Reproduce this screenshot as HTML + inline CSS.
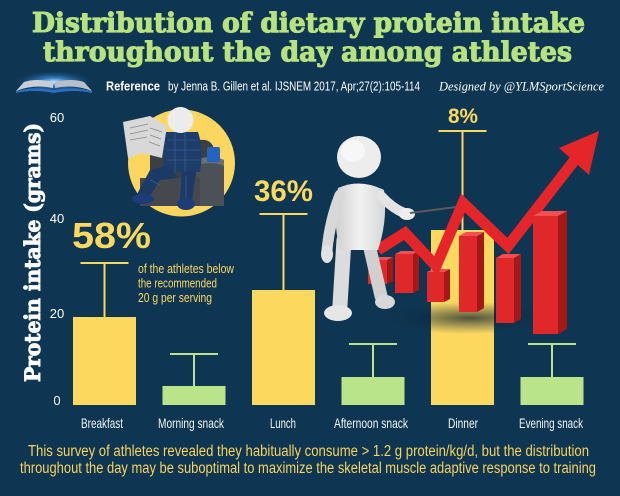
<!DOCTYPE html>
<html>
<head>
<meta charset="utf-8">
<style>
  html,body{margin:0;padding:0;background:#0e3551;}
  svg{display:block;}
  .narrow{font-family:"Liberation Sans Narrow","Liberation Sans",sans-serif;}
  .slab{font-family:"DejaVu Serif","Liberation Serif",serif;font-weight:bold;}
</style>
</head>
<body>
<svg width="620" height="496" viewBox="0 0 620 496" xmlns="http://www.w3.org/2000/svg">
  <defs>
    <radialGradient id="glow" cx="50%" cy="50%" r="50%">
      <stop offset="0%" stop-color="#cfe9ff" stop-opacity="1"/>
      <stop offset="35%" stop-color="#3a8de0" stop-opacity="0.8"/>
      <stop offset="100%" stop-color="#0e3551" stop-opacity="0"/>
    </radialGradient>
    <radialGradient id="shadow" cx="50%" cy="50%" r="50%">
      <stop offset="0%" stop-color="#06192a" stop-opacity="0.7"/>
      <stop offset="100%" stop-color="#0e3551" stop-opacity="0"/>
    </radialGradient>
    <linearGradient id="body" x1="0" y1="0" x2="1" y2="0">
      <stop offset="0%" stop-color="#cfcfcf"/>
      <stop offset="50%" stop-color="#f2f2f2"/>
      <stop offset="100%" stop-color="#d6d6d6"/>
    </linearGradient>
  </defs>

  <rect x="0" y="0" width="620" height="496" fill="#0e3551"/>

  <!-- Title -->
  <text class="slab" x="308.5" y="32" font-size="27" fill="#b6e27f" stroke="#b6e27f" stroke-width="1.1" text-anchor="middle" textLength="553" lengthAdjust="spacingAndGlyphs">Distribution of dietary protein intake</text>
  <text class="slab" x="307.5" y="61" font-size="27" fill="#b6e27f" stroke="#b6e27f" stroke-width="1.1" text-anchor="middle" textLength="529" lengthAdjust="spacingAndGlyphs">throughout the day among athletes</text>

  <!-- Book icon -->
  <ellipse cx="54" cy="82" rx="42" ry="12" fill="url(#glow)"/>
  <path d="M16,91 Q34,84 53,88 L53,82 Q36,78 24,82 Z" fill="#c9ced6"/>
  <path d="M92,91 Q74,84 55,88 L55,82 Q72,78 84,82 Z" fill="#b9bfc8"/>
  <path d="M16,91 Q34,86 54,90 Q74,86 92,91 L92,93 Q74,89 54,93 Q34,89 16,93 Z" fill="#2c6fc0"/>

  <!-- Reference line -->
  <text class="narrow" x="106" y="90.5" font-size="13" font-weight="bold" fill="#ffffff" textLength="54" lengthAdjust="spacingAndGlyphs">Reference</text>
  <text class="narrow" x="168" y="90.5" font-size="13" fill="#ffffff" textLength="252" lengthAdjust="spacingAndGlyphs">by Jenna B. Gillen et al. IJSNEM 2017, Apr;27(2):105-114</text>
  <text x="439" y="90.5" font-size="13" font-style="italic" font-family="Liberation Serif, serif" fill="#ffffff" textLength="165" lengthAdjust="spacingAndGlyphs">Designed by @YLMSportScience</text>

  <!-- Y axis title -->
  <text class="slab" transform="translate(40,252.5) rotate(-90)" x="0" y="0" font-size="21" fill="#ffffff" stroke="#ffffff" stroke-width="0.9" text-anchor="middle" textLength="259" lengthAdjust="spacingAndGlyphs">Protein intake (grams)</text>

  <!-- Tick labels -->
  <g class="narrow" font-size="13" fill="#ffffff" text-anchor="middle">
    <text x="57" y="122">60</text>
    <text x="57" y="223">40</text>
    <text x="57" y="318">20</text>
    <text x="57" y="405">0</text>
  </g>

  <!-- Reader clip-art in circle -->
  <circle cx="181.5" cy="163" r="53.5" fill="#fdd660"/>
  <path d="M150,150 Q152,138 170,138 L205,140 Q215,142 214,155 L214,200 L150,200 Z" fill="#3c3f44"/>
  <path d="M196,160 Q210,154 224,160 L224,206 L196,206 Z" fill="#4c5057"/>
  <path d="M196,160 Q210,154 224,160 L224,166 Q210,160 196,166 Z" fill="#6a6e75"/>
  <path d="M140,178 L200,178 L200,206 L140,206 Z" fill="#45484e"/>
  <path d="M165,132 L198,132 Q204,150 200,172 L166,172 Q160,150 165,132 Z" fill="#1f3d6b"/>
  <path d="M168,165 L150,170 L136,196 L148,199 L160,180 L178,178 Z" fill="#1c3a66"/>
  <path d="M182,170 L196,172 L192,200 L180,200 Z" fill="#1c3a66"/>
  <g stroke="#3f6aa6" stroke-width="0.8" opacity="0.7">
    <line x1="168" y1="140" x2="198" y2="140"/><line x1="167" y1="150" x2="200" y2="150"/>
    <line x1="167" y1="160" x2="200" y2="160"/><line x1="175" y1="132" x2="175" y2="172"/>
    <line x1="185" y1="132" x2="185" y2="172"/><line x1="150" y1="180" x2="160" y2="185"/>
    <line x1="186" y1="176" x2="186" y2="198"/>
  </g>
  <ellipse cx="143" cy="199" rx="11" ry="5" fill="#1d3c78"/>
  <ellipse cx="186" cy="204" rx="9" ry="6" fill="#1d3c78"/>
  <rect x="207" y="147" width="13" height="15" rx="2" fill="#2462c4"/>
  <circle cx="180.5" cy="120" r="13" fill="#ececec"/>
  <path d="M123,122 L150,116 L167,126 L162,158 L142,153 L128,158 Z" fill="#d8d8d8"/>
  <g stroke="#8a8a8a" stroke-width="0.8">
    <line x1="130" y1="128" x2="148" y2="124"/><line x1="130" y1="134" x2="148" y2="130"/>
    <line x1="130" y1="140" x2="147" y2="137"/><line x1="150" y1="128" x2="162" y2="132"/>
    <line x1="150" y1="135" x2="161" y2="139"/><line x1="149" y1="142" x2="160" y2="146"/>
  </g>

  <!-- Bars -->
  <g stroke-width="2" fill="none">
    <line x1="80.5" y1="263" x2="128.5" y2="263" stroke="#fdd85f"/>
    <line x1="104.5" y1="263" x2="104.5" y2="317" stroke="#fdd85f"/>
    <line x1="170" y1="354" x2="218" y2="354" stroke="#b9e48a"/>
    <line x1="194" y1="354" x2="194" y2="386" stroke="#b9e48a"/>
    <line x1="259.5" y1="214" x2="307.5" y2="214" stroke="#fdd85f"/>
    <line x1="283.5" y1="214" x2="283.5" y2="290" stroke="#fdd85f"/>
    <line x1="349" y1="344" x2="397" y2="344" stroke="#b9e48a"/>
    <line x1="373" y1="344" x2="373" y2="377" stroke="#b9e48a"/>
    <line x1="438.5" y1="131" x2="486.5" y2="131" stroke="#fdd85f"/>
    <line x1="462.5" y1="131" x2="462.5" y2="230" stroke="#fdd85f"/>
    <line x1="528" y1="344" x2="576" y2="344" stroke="#b9e48a"/>
    <line x1="552" y1="344" x2="552" y2="377" stroke="#b9e48a"/>
  </g>
  <rect x="73" y="317" width="63" height="88" fill="#fdd85f"/>
  <rect x="162.5" y="386" width="63" height="19" fill="#b9e48a"/>
  <rect x="252" y="290" width="63" height="115" fill="#fdd85f"/>
  <rect x="341.5" y="377" width="63" height="28" fill="#b9e48a"/>
  <rect x="431" y="230" width="63" height="175" fill="#fdd85f"/>
  <rect x="520.5" y="377" width="63" height="28" fill="#b9e48a"/>

  <ellipse cx="470" cy="318" rx="95" ry="16" fill="url(#shadow)"/>

  <!-- Red 3D bars -->
  <g>
    <polygon points="368,260 387,260 387,284 368,284" fill="#e0282b"/>
    <polygon points="387,260 393,257 393,281 387,284" fill="#a51818"/>
    <polygon points="368,260 374,257 393,257 387,260" fill="#f25050"/>
    <polygon points="395,254 413,254 413,293 395,293" fill="#e0282b"/>
    <polygon points="413,254 419,251 419,290 413,293" fill="#a51818"/>
    <polygon points="395,254 401,251 419,251 413,254" fill="#f25050"/>
    <polygon points="427,272 444,272 444,302 427,302" fill="#e0282b"/>
    <polygon points="444,272 450,269 450,299 444,302" fill="#a51818"/>
    <polygon points="427,272 433,269 450,269 444,272" fill="#f25050"/>
  </g>

  <!-- Red arrow -->
  <polyline points="378,250 405,233 436,266 463,203 508,246 577,157" fill="none" stroke="#e4262a" stroke-width="11" stroke-linejoin="miter" stroke-miterlimit="3"/>
  <polygon points="599,131 559,148 589,175" fill="#e4262a"/>

  <g>
    <polygon points="459,236 477,236 477,312 459,312" fill="#e0282b"/>
    <polygon points="477,236 484,232 484,308 477,312" fill="#a51818"/>
    <polygon points="459,236 466,232 484,232 477,236" fill="#f25050"/>
    <polygon points="496,258 514,258 514,323 496,323" fill="#e0282b"/>
    <polygon points="514,258 521,254 521,319 514,323" fill="#a51818"/>
    <polygon points="496,258 503,254 521,254 514,258" fill="#f25050"/>
    <polygon points="533,216 558,216 558,334 533,334" fill="#e0282b"/>
    <polygon points="558,216 567,211 567,329 558,334" fill="#a51818"/>
    <polygon points="533,216 542,211 567,211 558,216" fill="#f25050"/>
  </g>

  <!-- Presenter figure -->
  <g>
    <path d="M344,240 L340,305" stroke="#dcdcdc" stroke-width="15" stroke-linecap="round" fill="none"/>
    <path d="M368,240 L381,296" stroke="#d0d0d0" stroke-width="13" stroke-linecap="round" fill="none"/>
    <ellipse cx="338" cy="313" rx="14" ry="8" fill="#e6e6e6"/>
    <ellipse cx="385" cy="302" rx="10" ry="7" fill="#d8d8d8"/>
    <path d="M338,188 Q360,178 384,190 Q388,220 378,250 L340,250 Q332,220 338,188 Z" fill="url(#body)"/>
    <path d="M340,195 Q330,220 327,250" stroke="#d8d8d8" stroke-width="11" stroke-linecap="round" fill="none"/>
    <ellipse cx="327" cy="254" rx="6" ry="9" fill="#e2e2e2"/>
    <path d="M381,196 Q392,208 404,213" stroke="#e4e4e4" stroke-width="10" stroke-linecap="round" fill="none"/>
    <ellipse cx="407" cy="214" rx="8" ry="6" fill="#ededed"/>
    <line x1="410" y1="213" x2="456" y2="207" stroke="#5a5a5a" stroke-width="2"/>
    <ellipse cx="359" cy="157" rx="22" ry="21" fill="#ededed"/>
    <ellipse cx="353" cy="151" rx="12" ry="11" fill="#f7f7f7"/>
  </g>

  <!-- Percent labels -->
  <g font-family="Liberation Sans, sans-serif" font-weight="bold" fill="#fdd85f">
    <text x="72" y="248" font-size="36" textLength="79" lengthAdjust="spacingAndGlyphs">58%</text>
    <text x="254" y="201" font-size="30" textLength="59" lengthAdjust="spacingAndGlyphs">36%</text>
    <text x="448" y="123" font-size="21" textLength="30" lengthAdjust="spacingAndGlyphs">8%</text>
  </g>

  <!-- Annotation -->
  <g class="narrow" font-size="12.5" fill="#fdd85f">
    <text x="138" y="273" textLength="96" lengthAdjust="spacingAndGlyphs">of the athletes below</text>
    <text x="138" y="287.5" textLength="79" lengthAdjust="spacingAndGlyphs">the recommended</text>
    <text x="138" y="302" textLength="74" lengthAdjust="spacingAndGlyphs">20 g per serving</text>
  </g>

  <!-- Category labels -->
  <g class="narrow" font-size="14" fill="#f2f4f6" text-anchor="middle">
    <text x="102" y="428" textLength="42" lengthAdjust="spacingAndGlyphs">Breakfast</text>
    <text x="191" y="428" textLength="66" lengthAdjust="spacingAndGlyphs">Morning snack</text>
    <text x="283" y="428" textLength="26" lengthAdjust="spacingAndGlyphs">Lunch</text>
    <text x="371" y="428" textLength="74" lengthAdjust="spacingAndGlyphs">Afternoon snack</text>
    <text x="463" y="428" textLength="30" lengthAdjust="spacingAndGlyphs">Dinner</text>
    <text x="551" y="428" textLength="64" lengthAdjust="spacingAndGlyphs">Evening snack</text>
  </g>

  <!-- Bottom text -->
  <g class="narrow" font-size="15.5" fill="#f8d35e" text-anchor="middle">
    <text x="308.5" y="456" textLength="561" lengthAdjust="spacingAndGlyphs">This survey of athletes revealed they habitually consume &gt; 1.2 g protein/kg/d, but the distribution</text>
    <text x="308" y="473" textLength="576" lengthAdjust="spacingAndGlyphs">throughout the day may be suboptimal to maximize the skeletal muscle adaptive response to training</text>
  </g>
</svg>
</body>
</html>
